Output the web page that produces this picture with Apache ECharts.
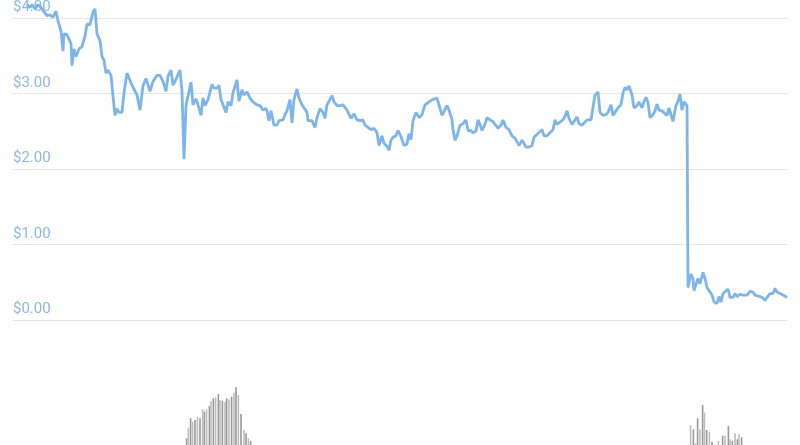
<!DOCTYPE html>
<html>
<head>
<meta charset="utf-8">
<script src="https://cdn.jsdelivr.net/npm/echarts@6/dist/echarts.min.js"></script>
<style>
  html, body { margin: 0; padding: 0; background: #fff; }
  #chart { width: 800px; height: 445px; }
</style>
</head>
<body>
<div id="chart"></div>
<script>
// time index (half-day steps from first sample) and price in USD
var days = [
  0, 1.5, 2.5, 4, 5.5, 7, 8.5, 10, 11.5, 13, 14.5, 15.5, 17, 18, 18.5, 20, 21, 22, 22.5, 23.5,
  24.5, 26, 27.5, 29, 30, 31.5, 33, 34, 35, 36.5, 37.5, 38.5, 39.5, 40.5, 42, 43, 44, 45, 46, 47.5,
  48.5, 50, 51, 52.5, 53.5, 55, 56.5, 58, 59.5, 60.5, 61.5, 63, 65, 66.5, 68, 69.5, 70.5, 72, 73, 74,
  75, 76.5, 77.5, 78.5, 79.5, 80.5, 82, 83, 84.5, 85.5, 87, 88, 89, 90.5, 92.5, 93.5, 95, 96, 97, 98,
  99.5, 100.5, 102, 103, 105, 106, 107.5, 108.5, 110, 111.5, 113, 115, 116.5, 118, 119.5, 120, 121, 122, 123.5, 125,
  126, 128, 129, 130, 131.5, 132.5, 133.5, 135, 136, 137.5, 138.5, 140, 140.5, 142.5, 144, 145, 146.5, 148, 149, 150,
  151, 152.5, 153.5, 155, 156.5, 158, 160, 162, 163.5, 165, 166.5, 168, 169, 170.5, 172, 173.5, 175, 176, 177.5, 178.5,
  180, 181, 182, 183, 184.5, 185.5, 187, 188.5, 190, 191, 192, 193, 194.5, 196, 197.5, 199, 200, 201.5, 203, 205,
  206, 207.5, 208.5, 210, 211, 212.5, 213, 214, 215, 216.5, 218, 219.5, 220.5, 222, 223, 224.5, 225.5, 226.5, 227.5, 229,
  230, 231.5, 233, 234, 235.5, 237, 238, 239.5, 241, 242.5, 244, 245, 246, 247.5, 248.5, 249.5, 251, 252.5, 253.5, 255,
  256, 257.5, 258.5, 260, 261.5, 263, 264, 265, 266, 267.5, 268.5, 270, 271, 272.5, 273.5, 275, 276, 277.5, 278.5, 280,
  281, 282, 283, 284, 285.5, 286.5, 288, 289.5, 290.5, 292, 293, 294.5, 295.5, 297, 298, 299, 300, 301, 302.5, 303.5,
  305, 306, 307.5, 308.5, 309.5, 310.5, 311.5, 313, 314, 315, 316, 317.5, 318.5, 320, 321, 322, 323, 324.5, 325.5, 326.5,
  327.5, 328.5, 330, 330.5, 332, 333, 333.5, 334.5, 335.5, 336.5, 338, 339, 340, 341, 342.5, 343.5, 345, 346, 347, 348,
  349, 350.5, 351.5, 353, 354, 355, 356.5, 358, 359, 360, 361.5, 363, 364, 365, 366.5, 368, 369, 370, 371.5, 373,
  374, 375, 376.5, 378, 379, 380
];
var prices = [
  4.18, 4.14, 4.18, 4.12, 4.18, 4.14, 4.08, 4.03, 4.04, 4.01, 4.09, 3.96, 3.83, 3.56, 3.79, 3.78, 3.80, 3.66, 3.37, 3.59,
  3.49, 3.59, 3.62, 3.76, 3.92, 3.91, 4.08, 4.12, 3.79, 3.70, 3.49, 3.44, 3.27, 3.31, 3.24, 2.97, 2.71, 2.80, 2.75, 2.75,
  3.01, 3.27, 3.29, 3.11, 3.10, 2.98, 2.78, 3.10, 3.20, 3.19, 3.03, 3.16, 3.24, 3.24, 3.16, 3.03, 3.23, 3.31, 3.11, 3.16,
  3.15, 3.31, 3.03, 2.13, 2.84, 2.84, 3.15, 2.85, 2.93, 2.85, 2.71, 2.94, 2.84, 2.92, 3.12, 3.07, 3.07, 3.11, 2.92, 2.90,
  2.75, 2.89, 2.84, 3.01, 3.18, 2.90, 3.05, 2.98, 3.02, 2.94, 2.89, 2.85, 2.84, 2.78, 2.80, 2.77, 2.64, 2.77, 2.58, 2.58,
  2.64, 2.65, 2.72, 2.77, 2.92, 2.61, 2.92, 3.06, 2.94, 2.85, 2.85, 2.75, 2.64, 2.64, 2.55, 2.68, 2.80, 2.75, 2.67, 2.85,
  2.85, 2.97, 2.89, 2.84, 2.84, 2.85, 2.78, 2.67, 2.73, 2.65, 2.64, 2.65, 2.58, 2.55, 2.52, 2.54, 2.48, 2.31, 2.44, 2.34,
  2.30, 2.25, 2.38, 2.42, 2.44, 2.51, 2.43, 2.31, 2.33, 2.47, 2.39, 2.64, 2.75, 2.68, 2.72, 2.85, 2.84, 2.90, 2.92, 2.94,
  2.85, 2.71, 2.72, 2.84, 2.78, 2.65, 2.52, 2.38, 2.44, 2.58, 2.60, 2.65, 2.51, 2.51, 2.48, 2.50, 2.65, 2.59, 2.51, 2.59,
  2.68, 2.65, 2.63, 2.59, 2.54, 2.58, 2.65, 2.55, 2.52, 2.44, 2.41, 2.39, 2.31, 2.38, 2.34, 2.29, 2.29, 2.31, 2.42, 2.46,
  2.47, 2.52, 2.44, 2.44, 2.48, 2.52, 2.65, 2.59, 2.58, 2.64, 2.67, 2.77, 2.67, 2.59, 2.59, 2.69, 2.60, 2.58, 2.61, 2.65,
  2.63, 2.65, 2.65, 2.98, 3.02, 2.75, 2.71, 2.72, 2.75, 2.85, 2.71, 2.77, 2.81, 2.85, 3.01, 3.08, 3.05, 3.10, 2.98, 2.81,
  2.84, 2.89, 2.81, 2.89, 2.95, 2.88, 2.68, 2.72, 2.77, 2.86, 2.78, 2.77, 2.77, 2.71, 2.81, 2.81, 2.63, 2.84, 2.90, 2.99,
  2.78, 2.89, 2.84, 0.43, 0.61, 0.55, 0.39, 0.37, 0.55, 0.48, 0.63, 0.55, 0.43, 0.42, 0.33, 0.24, 0.22, 0.31, 0.24, 0.35,
  0.35, 0.41, 0.30, 0.30, 0.35, 0.31, 0.34, 0.33, 0.35, 0.33, 0.38, 0.37, 0.33, 0.35, 0.31, 0.29, 0.26, 0.30, 0.35, 0.35,
  0.42, 0.37, 0.35, 0.33, 0.31, 0.30
];
var priceTicks = [0, 1, 2, 3, 4];

// trading volume bars (same time index)
var volDays = [
  79.8, 80.7, 81.8, 82.8, 84, 85.2, 86.5, 87.8, 88.7, 89.8, 91.2, 92, 93.2, 94.3, 95.7, 96.5, 97.7, 99, 99.8, 101,
  102.3, 103.5, 104.5, 105.7, 107, 108.5, 109.5, 110.7, 111.8,
  331.8, 333.2, 334.3, 335.3, 336.5, 337.8, 338.7, 339.8, 341.2, 342.5, 345.7, 347.8, 349, 350.7, 351.5, 352.7, 354, 355.2, 356, 357.3
];
var volumes = [
  6.7, 17.3, 26.7, 23.3, 25, 27.7, 26.7, 35.7, 33.3, 35.7, 39, 44, 46.7, 47.7, 51, 45, 44.3, 42.7, 46.7, 45.7,
  48.3, 52.3, 57.7, 50, 31, 15, 11.7, 6.7, 4,
  20, 15.7, 1.7, 26.7, 15.7, 40, 32.3, 15, 13.3, 3.3, 4.3, 9.3, 9.3, 19, 5.7, 4.3, 11.7, 5.7, 10.7, 7.7
];

var priceData = days.map(function (d, i) { return [d, prices[i]]; });
var volData = volDays.map(function (d, i) { return [d, volumes[i]]; });

var chart = echarts.init(document.getElementById('chart'));
chart.setOption({
  animation: false,
  grid: [
    { left: 13, right: 13, top: 13, bottom: 125 },
    { left: 13, right: 13, top: 380, bottom: 0 }
  ],
  xAxis: [
    { type: 'value', gridIndex: 0, min: -7, max: 380, show: false },
    { type: 'value', gridIndex: 1, min: -7, max: 380, show: false }
  ],
  yAxis: [
    {
      type: 'value', gridIndex: 0, min: priceTicks[0], max: priceTicks[priceTicks.length - 1], interval: 1,
      axisLine: { show: false },
      axisTick: { show: false },
      splitLine: { lineStyle: { color: '#e6e6e6', width: 1 } },
      axisLabel: {
        inside: true,
        margin: 0,
        verticalAlign: 'bottom',
        padding: [0, 0, 3, 0],
        color: '#8ab9ea',
        fontFamily: 'Roboto',
        fontSize: 15,
        formatter: function (v) { return '$' + v.toFixed(2); }
      }
    },
    { type: 'value', gridIndex: 1, min: 0, max: 65, show: false }
  ],
  series: [
    {
      type: 'bar',
      xAxisIndex: 1,
      yAxisIndex: 1,
      barWidth: 1.6,
      data: volData,
      itemStyle: {
        color: function (p) { return p.dataIndex % 2 ? '#bdbdbd' : '#999999'; }
      }
    },
    {
      type: 'line',
      xAxisIndex: 0,
      yAxisIndex: 0,
      data: priceData,
      showSymbol: false,
      clip: false,
      lineStyle: { color: '#7cb5ec', width: 2.8 },
      z: 3
    }
  ]
});
</script>
</body>
</html>
